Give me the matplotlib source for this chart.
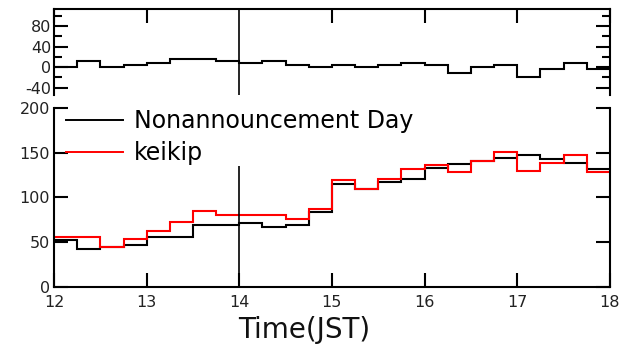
import numpy as np
import matplotlib
matplotlib.use('Agg')
import matplotlib.pyplot as plt
from matplotlib.ticker import MultipleLocator

# Data: 15-minute bins from 12:00 to 18:00 JST
t_start, t_end, bin_h = 12.0, 18.0, 0.25
nonannounce = [52, 42.5, 45, 47, 56, 56, 69, 69, 71, 66.5, 69, 84,
               115, 110, 117, 121, 133, 137, 141, 144, 147.5, 142.5, 139, 132]
keikip = [56, 56, 45, 54, 62, 73, 84.5, 80, 80, 80, 75.5, 87,
          119, 110, 121, 132, 136, 128, 141, 151, 130, 139, 147.5, 128.5]
diff = [0, 11.7, 0, 3.9, 8.5, 15.6, 15.6, 11.7, 8.5, 11.7, 3.9, 0,
        3.9, 0, 3.9, 8.5, 3.9, -11, 0, 3.9, -19.5, -4.5, 8.5, -4.5]
event_time = 14
event_top = 135
x_ticks = [12, 13, 14, 15, 16, 17, 18]
series_labels = ['Nonannouncement Day', 'keikip']

edges = np.arange(t_start, t_end + bin_h / 2, bin_h)

plt.rcParams['font.family'] = ['DejaVu Sans']
plt.rcParams['axes.unicode_minus'] = False
fig = plt.figure(figsize=(6.21, 3.61), dpi=100)
ax_top = fig.add_axes([0.087, 0.737, 0.895, 0.238])
ax_bot = fig.add_axes([0.087, 0.205, 0.895, 0.496])

lw = 1.5
tick_col = '#222222'

# top panel
ax_top.stairs(diff, edges, color='black', lw=lw, baseline=None)
ax_top.axvline(event_time, color='black', lw=1.2)
ax_top.set_xlim(t_start, t_end)
ax_top.set_ylim(-54, 113)
ax_top.spines['bottom'].set_visible(False)
for s in ['top', 'left', 'right']:
    ax_top.spines[s].set_linewidth(1.5)
ax_top.yaxis.set_major_locator(MultipleLocator(40))
ax_top.yaxis.set_minor_locator(MultipleLocator(20))
ax_top.set_xticks([x for x in x_ticks if x != event_time])
ax_top.tick_params(axis='x', bottom=False, top=True, labelbottom=False,
                   direction='in', length=10, width=1.5)
ax_top.tick_params(axis='y', which='major', left=True, right=True, direction='in',
                   length=10, width=1.5, labelsize=11.5, labelcolor=tick_col, pad=2)
ax_top.tick_params(axis='y', which='minor', left=True, right=True, direction='in',
                   length=6, width=1.5)

# bottom panel
ax_bot.stairs(nonannounce, edges, color='black', lw=lw, baseline=None,
              label=series_labels[0])
ax_bot.stairs(keikip, edges, color='#ff0000', lw=lw, baseline=None,
              label=series_labels[1])
ax_bot.vlines(event_time, 0, event_top, color='black', lw=1.2)
ax_bot.set_xlim(t_start, t_end)
ax_bot.set_ylim(0, 200)
ax_bot.spines['top'].set_visible(False)
for s in ['bottom', 'left', 'right']:
    ax_bot.spines[s].set_linewidth(1.5)
ax_bot.yaxis.set_major_locator(MultipleLocator(50))
ax_bot.set_xticks(x_ticks)
ax_bot.tick_params(axis='x', direction='in', length=10, width=1.5,
                   labelsize=11.5, labelcolor=tick_col, pad=6)
ax_bot.tick_params(axis='y', left=True, right=True, direction='in', length=10,
                   width=1.5, labelsize=11.5, labelcolor=tick_col, pad=3)
ax_bot.set_xlabel('Time(JST)', fontsize=20, color='#111111', labelpad=4, x=0.45)

leg = ax_bot.legend(loc='upper left', bbox_to_anchor=(0.022, 0.995), frameon=False,
                    fontsize=17, handlelength=2.4, handletextpad=0.45,
                    labelspacing=0.36, borderpad=0, borderaxespad=0)
for h in leg.get_lines():
    h.set_linewidth(1.4)

fig.savefig('out.png', dpi=100)
